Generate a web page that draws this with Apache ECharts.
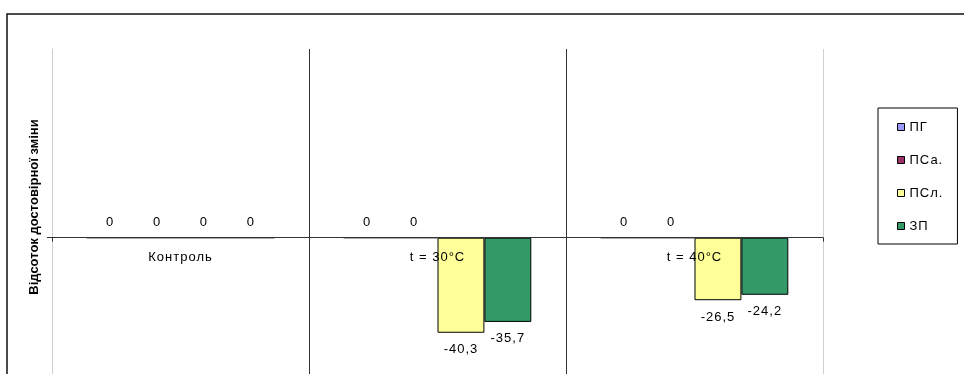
<!DOCTYPE html>
<html>
<head>
<meta charset="utf-8">
<script src="https://cdn.jsdelivr.net/npm/echarts@6/dist/echarts.min.js"></script>
<style>
  html, body { margin: 0; padding: 0; background: #fff; overflow: hidden; }
  /* the plot runs below the visible window, so the canvas is taller than it */
  #chart { width: 964px; height: 450px; }
</style>
</head>
<body>
<div id="chart"></div>
<script>
// Regular-weight labels use slightly wider character spacing; applied to both
// drawing and measuring so that label layout stays consistent.
(function () {
  const proto = CanvasRenderingContext2D.prototype;
  if (!('letterSpacing' in proto)) return;
  const spacingFor = ctx => (/bold/.test(ctx.font) ? '0px' : '1px');
  const origFill = proto.fillText;
  const origMeasure = proto.measureText;
  proto.fillText = function () {
    this.letterSpacing = spacingFor(this);
    return origFill.apply(this, arguments);
  };
  proto.measureText = function () {
    this.letterSpacing = spacingFor(this);
    return origMeasure.apply(this, arguments);
  };
})();

// Categories (temperature treatments)
const categories = ['Контроль', 't = 30°C', 't = 40°C'];

// Series names and values per category
const seriesNames = ['ПГ', 'ПСа.', 'ПСл.', 'ЗП'];
const valuesPG  = [0, 0, 0];
const valuesPSa = [0, 0, 0];
const valuesPSl = [0, -40.3, -26.5];
const valuesZP  = [0, -35.7, -24.2];

const seriesColors = ['#9999FF', '#993366', '#FFFF99', '#339966'];
const yTitle = 'Відсоток достовірної зміни';

const FONT = 'Liberation Sans, Arial, sans-serif';
const allValues = [valuesPG, valuesPSa, valuesPSl, valuesZP];

const Y_MIN = -80, Y_MAX = 80;
const GRID_TOP = 49, ZERO_Y = 237.7;
const plotHeight = (ZERO_Y - GRID_TOP) * (Y_MAX - Y_MIN) / Y_MAX;

const chart = echarts.init(document.getElementById('chart'), null, { renderer: 'canvas' });

const series = seriesNames.map((name, i) => ({
  name,
  type: 'bar',
  xAxisIndex: 0,
  yAxisIndex: 0,
  barGap: '0%',
  barCategoryGap: '27%',
  itemStyle: { color: seriesColors[i], borderColor: '#000', borderWidth: 1 },
  label: {
    show: true,
    color: '#000',
    fontFamily: FONT,
    fontSize: 13,
    formatter: p => String(p.value).replace('.', ',')
  },
  data: allValues[i].map(v => ({
    value: v,
    label: v < 0 ? { position: 'bottom', distance: 10 } : { position: 'top', distance: 8 }
  }))
}));

chart.setOption({
  animation: false,
  backgroundColor: '#fff',
  grid: [
    // main plot with bars
    { left: 52, right: 141, top: GRID_TOP, height: plotHeight },
    // upper half, used only to place category names just under the zero line
    { left: 52, right: 141, top: GRID_TOP, height: ZERO_Y - GRID_TOP }
  ],
  xAxis: [
    {
      type: 'category',
      gridIndex: 0,
      data: categories,
      z: 10,
      axisLine: { onZero: true, lineStyle: { color: '#333', width: 1 } },
      axisTick: { show: true, length: 4, lineStyle: { color: '#333' } },
      axisLabel: { show: false },
      splitLine: {
        show: true,
        lineStyle: { color: ['#d0d0d0', '#333', '#333', '#d0d0d0'], width: 1 }
      }
    },
    {
      type: 'category',
      gridIndex: 1,
      data: categories,
      z: 10,
      axisLine: { show: false },
      axisTick: { show: false },
      axisLabel: { color: '#000', fontFamily: FONT, fontSize: 13, margin: 13 },
      splitLine: { show: false }
    }
  ],
  yAxis: [
    {
      type: 'value',
      gridIndex: 0,
      min: Y_MIN,
      max: Y_MAX,
      axisLine: { show: true, lineStyle: { color: '#d0d0d0' } },
      axisTick: { show: true, customValues: [0], length: 5, lineStyle: { color: '#333' } },
      axisLabel: { show: false },
      splitLine: { show: false }
    },
    {
      type: 'value',
      gridIndex: 1,
      min: 0,
      max: Y_MAX,
      show: false
    }
  ],
  legend: {
    orient: 'vertical',
    left: 878,
    top: 108,
    padding: [12, 14, 11, 19],
    itemWidth: 7,
    itemHeight: 7,
    itemGap: 19,
    borderColor: '#000',
    borderWidth: 1,
    icon: 'rect',
    textStyle: { color: '#000', fontFamily: FONT, fontSize: 13 },
    itemStyle: { borderColor: '#000', borderWidth: 1 },
    data: seriesNames
  },
  graphic: [
    {
      type: 'rect',
      z: -1,
      shape: { x: 7, y: 14, width: 1000, height: 500 },
      style: { fill: 'none', stroke: '#111', lineWidth: 1.5 }
    },
    {
      type: 'text',
      x: 34.5,
      y: 207,
      rotation: Math.PI / 2,
      style: {
        text: yTitle,
        fill: '#000',
        font: 'bold 13px ' + FONT,
        align: 'center',
        verticalAlign: 'middle'
      }
    }
  ],
  series
});
</script>
</body>
</html>
